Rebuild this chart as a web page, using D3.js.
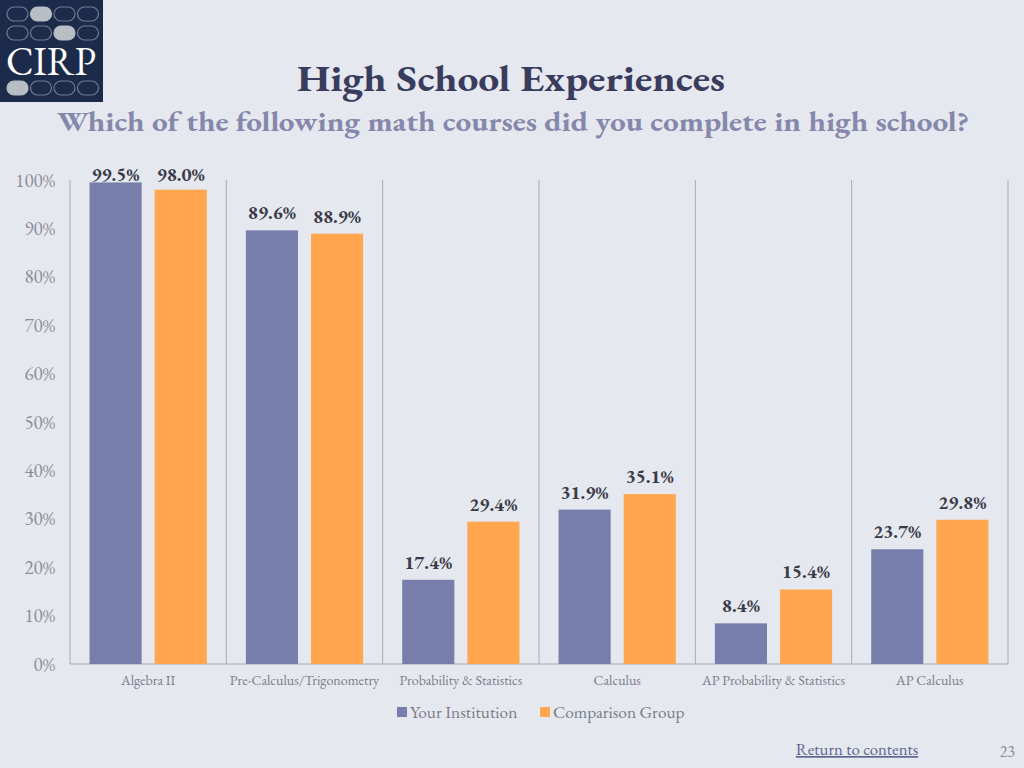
<!DOCTYPE html>
<html>
<head>
<meta charset="utf-8">
<script src="https://cdn.jsdelivr.net/npm/d3@7"></script>
<style>
html,body{margin:0;padding:0;background:#e5e8ef;}
svg{display:block;}
svg text{font-variant-numeric:lining-nums;font-feature-settings:"lnum" 1;}
</style>
</head>
<body>
<svg id="chart" width="1024" height="768"></svg>
<script>
const categories = ["Algebra II","Pre-Calculus/Trigonometry","Probability & Statistics","Calculus","AP Probability & Statistics","AP Calculus"];
const seriesNames = ["Your Institution","Comparison Group"];
const yourInstitution = [99.5, 89.6, 17.4, 31.9, 8.4, 23.7];
const comparisonGroup = [98.0, 88.9, 29.4, 35.1, 15.4, 29.8];
const yTicks = [0,10,20,30,40,50,60,70,80,90,100];
const colors = ["#777eab", "#ffa64f"];

(function(){
const svg = d3.select("#chart");
const serif = "'EB Garamond', 'Liberation Serif', serif";

svg.append("rect").attr("width",1024).attr("height",768).attr("fill","#e5e8ef");

// Logo
const logo = svg.append("g");
logo.append("rect").attr("x",0).attr("y",0).attr("width",103).attr("height",102).attr("fill","#1d2b4b");
const pillRows = [{y:14, filled:1},{y:33, filled:2},{y:88, filled:0}];
pillRows.forEach(r=>{
  for(let i=0;i<4;i++){
    logo.append("rect").attr("x",7+i*23.5).attr("y",r.y-7).attr("width",21).attr("height",14).attr("rx",7)
      .attr("fill", i===r.filled ? "#b9bec4" : "none")
      .attr("stroke", i===r.filled ? "#b9bec4" : "#6f7c96").attr("stroke-width",1.2);
  }
});
logo.append("text").attr("x",51).attr("y",75).attr("text-anchor","middle")
  .attr("font-family",serif).attr("font-size",40).attr("fill","#ffffff")
  .attr("textLength",90).attr("lengthAdjust","spacingAndGlyphs").text("CIRP");

// Titles
svg.append("text").attr("x",511).attr("y",91).attr("text-anchor","middle")
  .attr("font-family",serif).attr("font-size",37).attr("font-weight","bold").attr("fill","#3a3c5e")
  .attr("textLength",428).attr("lengthAdjust","spacingAndGlyphs")
  .text("High School Experiences");
svg.append("text").attr("x",513).attr("y",131).attr("text-anchor","middle")
  .attr("font-family",serif).attr("font-size",27).attr("font-weight","bold").attr("fill","#8587ab")
  .attr("textLength",912).attr("lengthAdjust","spacingAndGlyphs")
  .text("Which of the following math courses did you complete in high school?");

// Plot
const pLeft = 70, pRight = 1008, pTop = 180, pBottom = 664;
const x0 = d3.scaleBand().domain(categories).range([pLeft,pRight]).padding(0);
const x1 = d3.scaleBand().domain(seriesNames).range([0,x0.bandwidth()]).paddingInner(0.2).paddingOuter(0.3);
const y = d3.scaleLinear().domain([0,100]).range([pBottom,pTop]);

const seps = categories.map(c=>x0(c)).concat([pRight]);
svg.append("g").selectAll("line").data(seps).join("line")
  .attr("x1",d=>d).attr("x2",d=>d).attr("y1",pTop).attr("y2",pBottom)
  .attr("stroke","#a9abb3").attr("stroke-width",1);
svg.append("line").attr("x1",pLeft).attr("x2",pRight).attr("y1",pBottom).attr("y2",pBottom)
  .attr("stroke","#a9abb3").attr("stroke-width",1);

const yAxis = d3.axisLeft(y).tickValues(yTicks).tickFormat(d=>d+"%").tickSize(0).tickPadding(15);
const yg = svg.append("g").attr("transform",`translate(${pLeft},0)`).call(yAxis);
yg.select(".domain").remove();
yg.selectAll("text").attr("font-family",serif).attr("font-size",19).attr("fill","#8c8e98");

const xAxis = d3.axisBottom(x0).tickSize(0).tickPadding(11);
const xg = svg.append("g").attr("transform",`translate(0,${pBottom})`).call(xAxis);
xg.select(".domain").remove();
xg.selectAll("text").attr("font-family",serif).attr("font-size",14).attr("fill","#7a7c86");

const data = categories.map((c,i)=>({cat:c, vals:[yourInstitution[i], comparisonGroup[i]]}));
const groups = svg.append("g").selectAll("g").data(data).join("g")
  .attr("transform",d=>`translate(${x0(d.cat)},0)`);
groups.selectAll("rect").data(d=>d.vals.map((v,j)=>({s:seriesNames[j], v, j}))).join("rect")
  .attr("x",d=>x1(d.s)).attr("width",x1.bandwidth())
  .attr("y",d=>y(d.v)).attr("height",d=>pBottom-y(d.v))
  .attr("fill",d=>colors[d.j]);
groups.selectAll("text").data(d=>d.vals.map((v,j)=>({s:seriesNames[j], v, j}))).join("text")
  .attr("x",d=>x1(d.s)+x1.bandwidth()/2)
  .attr("y",d=>Math.max(y(d.v)-11, 181))
  .attr("text-anchor","middle").attr("font-family",serif).attr("font-size",19).attr("font-weight","bold")
  .attr("fill","#3a3b48").text(d=>d.v.toFixed(1)+"%");

const legend = svg.append("g");
const legItems = [{name:seriesNames[0], x:397},{name:seriesNames[1], x:540}];
legItems.forEach((it,i)=>{
  legend.append("rect").attr("x",it.x).attr("y",707).attr("width",10).attr("height",10).attr("fill",colors[i]);
  legend.append("text").attr("x",it.x+13).attr("y",718).attr("font-family",serif).attr("font-size",17.3)
    .attr("fill","#7a7c86").text(it.name);
});

svg.append("text").attr("x",857).attr("y",755).attr("text-anchor","middle").attr("font-family",serif)
  .attr("font-size",16.8).attr("fill","#5f6390").attr("text-decoration","underline").text("Return to contents");
svg.append("text").attr("x",1015).attr("y",757).attr("text-anchor","end").attr("font-family",serif)
  .attr("font-size",16).attr("fill","#8a8c96").text("23");
})();
</script>
</body>
</html>
